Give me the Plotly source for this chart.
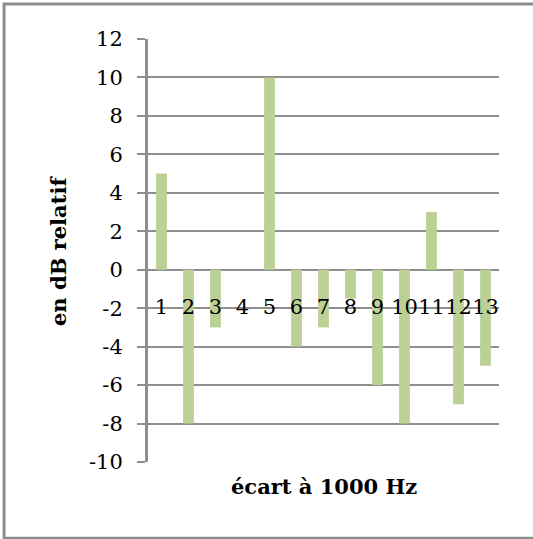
import plotly.graph_objects as go

# écart à 1000 Hz (category) -> level in dB relative
categories = ["1", "2", "3", "4", "5", "6", "7", "8", "9", "10", "11", "12", "13"]
values = [5, -8, -3, 0, 10, -4, -3, -1.5, -6, -8, 3, -7, -5]
y_ticks = list(range(-10, 13, 2))
y_tick_labels = [str(v) for v in y_ticks]  # plain hyphen, not unicode minus

BAR_COLOR = "#BBD095"
GRID = "#8E8E8E"
FONT = "DejaVu Serif"

fig = go.Figure()

fig.add_trace(
    go.Bar(
        x=categories,
        y=values,
        marker=dict(color=BAR_COLOR, line=dict(width=0)),
        width=0.4,
        hoverinfo="x+y",
    )
)

fig.update_layout(
    width=533,
    height=539,
    showlegend=False,
    plot_bgcolor="#FFFFFF",
    paper_bgcolor="#FFFFFF",
    margin=dict(l=148, r=34, t=39, b=77),
    font=dict(family=FONT, size=21, color="#000000"),
)

# category labels sit just under the 0 line
fig.update_xaxes(
    type="category",
    range=[-0.5, len(categories) - 0.5],
    anchor="free",
    position=10 / 22,
    showgrid=False,
    showline=False,
    zeroline=False,
    ticks="",
    tickangle=0,
    ticklabelstandoff=22,
    tickfont=dict(family=FONT, size=21),
)

fig.update_yaxes(
    range=[-10, 12],
    tickvals=y_ticks,
    ticktext=y_tick_labels,
    showgrid=True,
    gridcolor=GRID,
    gridwidth=2,
    zeroline=False,
    showline=True,
    linecolor=GRID,
    linewidth=3,
    ticks="outside",
    ticklen=8,
    tickwidth=2,
    tickcolor=GRID,
    ticklabelstandoff=10,
    tickfont=dict(family=FONT, size=21),
)

# axis titles
fig.add_annotation(
    text="<b>en dB relatif</b>",
    xref="paper", yref="paper",
    x=-0.255, y=0.5,
    textangle=-90,
    showarrow=False,
    xanchor="center", yanchor="middle",
    font=dict(family=FONT, size=21),
)
fig.add_annotation(
    text="<b>écart à 1000 Hz</b>",
    xref="paper", yref="paper",
    x=0.5, y=-0.057,
    showarrow=False,
    xanchor="center", yanchor="middle",
    font=dict(family=FONT, size=21),
)

# chart frame (right side runs off the picture)
fig.add_shape(
    type="rect",
    xref="paper", yref="paper",
    x0=-0.41, x1=1.3, y0=-0.18, y1=1.083,
    line=dict(color="#8C8C8C", width=3),
    fillcolor="rgba(0,0,0,0)",
    layer="below",
)

# drop the browser's default body margin so the figure sits at the page origin
fig.write_html(
    "out.html",
    config={"displayModeBar": False},
    post_script="document.body.style.margin='0';",
)
